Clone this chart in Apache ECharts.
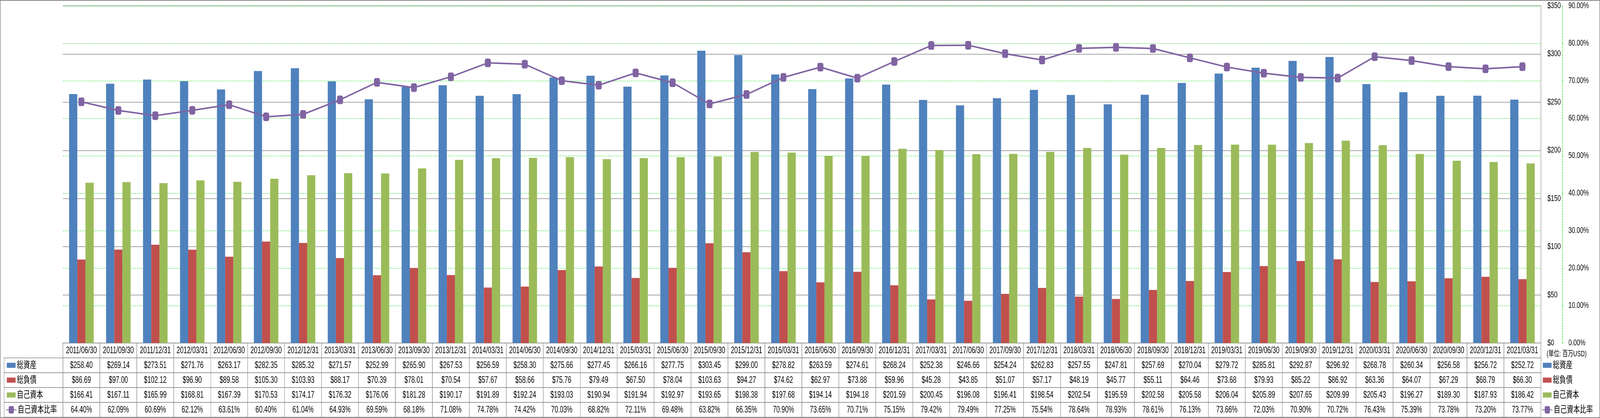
<!DOCTYPE html>
<html><head><meta charset="utf-8">
<script src="https://cdn.jsdelivr.net/npm/echarts@6/dist/echarts.min.js"></script>
<style>html,body{margin:0;padding:0;background:#fff;overflow:hidden}#c{width:5876px;height:1071px;transform-origin:0 0}</style>
</head><body><div id="c"></div>
<script>
const categories = ['2011/06/30','2011/09/30','2011/12/31','2012/03/31','2012/06/30','2012/09/30','2012/12/31','2013/03/31','2013/06/30','2013/09/30','2013/12/31','2014/03/31','2014/06/30','2014/09/30','2014/12/31','2015/03/31','2015/06/30','2015/09/30','2015/12/31','2016/03/31','2016/06/30','2016/09/30','2016/12/31','2017/03/31','2017/06/30','2017/09/30','2017/12/31','2018/03/31','2018/06/30','2018/09/30','2018/12/31','2019/03/31','2019/06/30','2019/09/30','2019/12/31','2020/03/31','2020/06/30','2020/09/30','2020/12/31','2021/03/31'];
const totalAssets = [258.40,269.14,273.51,271.76,263.17,282.35,285.32,271.57,252.99,265.90,267.53,256.59,258.30,275.66,277.45,266.16,277.75,303.45,299.00,278.82,263.59,274.61,268.24,252.38,246.66,254.24,262.83,257.55,247.81,257.69,270.04,279.72,285.81,292.87,296.92,268.78,260.34,256.58,256.72,252.72];
const totalLiabilities = [86.69,97.00,102.12,96.90,89.58,105.30,103.93,88.17,70.39,78.01,70.54,57.67,58.66,75.76,79.49,67.50,78.04,103.63,94.27,74.62,62.97,73.88,59.96,45.28,43.85,51.07,57.17,48.19,45.77,55.11,64.46,73.68,79.93,85.22,86.92,63.36,64.07,67.29,68.79,66.30];
const equity = [166.41,167.11,165.99,168.81,167.39,170.53,174.17,176.32,176.06,181.28,190.17,191.89,192.24,193.03,190.94,191.94,192.97,193.65,198.38,197.68,194.14,194.18,201.59,200.45,196.08,196.41,198.54,202.54,195.59,202.58,205.58,206.04,205.89,207.65,209.99,205.43,196.27,189.30,187.93,186.42];
const equityRatio = [64.40,62.09,60.69,62.12,63.61,60.40,61.04,64.93,69.59,68.18,71.08,74.78,74.42,70.03,68.82,72.11,69.48,63.82,66.35,70.90,73.65,70.71,75.15,79.42,79.49,77.25,75.54,78.64,78.93,78.61,76.13,73.66,72.03,70.90,70.72,76.43,75.39,73.78,73.20,73.77];
const seriesNames = ['総資産','総負債','自己資本','自己資本比率'];
const tableRows = ['header','総資産','総負債','自己資本','自己資本比率'];
const moneyAxis = {min:0, max:350, interval:50};
const ratioAxis = {min:0, max:90, interval:10};
const unitLabel = '(単位: 百万USD)';

const DESIGN_W = 5876;
const box = document.getElementById('c');
const sx = Math.min(1, window.innerWidth / DESIGN_W);
box.style.transform = 'scaleX(' + sx + ')';

const FONT = "'Liberation Sans', 'Noto Sans CJK JP', sans-serif";
const GRID_LINE = '#878787';
const GREEN = '#00dd00';
const colors = ['#4F81BD','#C0504D','#9BBB59','#8064A2'];

function cellText(r, c) {
  if (r === 0) return categories[c];
  if (r === 4) return equityRatio[c].toFixed(2) + '%';
  const arr = [totalAssets, totalLiabilities, equity][r - 1];
  return '$' + arr[c].toFixed(2);
}
const tableData = [];
for (let r = 0; r < tableRows.length; r++) for (let c = 0; c < categories.length; c++) tableData.push([c, r]);
const legendColData = seriesNames.map((n, i) => [0, i]);

function renderTableCell(params, api) {
  const c = api.value(0), r = api.value(1);
  const p = api.coord([c, r]);
  const s = api.size([1, 1]);
  return {
    type: 'group',
    children: [
      {type: 'rect', shape: {x: p[0] - s[0] / 2, y: p[1] - s[1] / 2, width: s[0], height: s[1]},
       style: {fill: '#fff', stroke: GRID_LINE, lineWidth: 1.5}},
      {type: 'text', style: {x: p[0], y: p[1] + 1, text: cellText(r, c), align: 'center', verticalAlign: 'middle',
       font: '23px ' + FONT, fill: '#000'}}
    ]
  };
}
function renderLegendCell(params, api) {
  const p = api.coord([api.value(0), api.value(1)]);
  const s = api.size([1, 1]);
  return {type: 'rect', shape: {x: p[0] - s[0] / 2, y: p[1] - s[1] / 2, width: s[0], height: s[1]},
    style: {fill: '#fff', stroke: GRID_LINE, lineWidth: 1.5}};
}

const legendText = {fontSize: 24, lineHeight: 24, fontFamily: FONT, color: '#000'};
const chart = echarts.init(box, null, {renderer: 'canvas', width: DESIGN_W, height: 1071});
chart.setOption({
  animation: false,
  backgroundColor: '#fff',
  title: {text: unitLabel, left: 5680, top: 897, padding: 0,
    textStyle: {fontSize: 20, fontWeight: 'normal', color: '#000', fontFamily: FONT}},
  graphic: [{type: 'rect', silent: true, z: -10,
    shape: {x: 1, y: 1, width: 5874, height: 1069},
    style: {fill: 'none', stroke: '#868686', lineWidth: 2}}],
  grid: [
    {left: 231, right: 217, top: 15, bottom: 192, outerBoundsMode: 'none'},
    {left: 231, right: 217, top: 879, height: 190, outerBoundsMode: 'none'},
    {left: 15, width: 216, top: 917, height: 152, outerBoundsMode: 'none'}
  ],
  xAxis: [
    {gridIndex: 0, type: 'category', data: categories, axisLabel: {show: false}, axisTick: {show: false},
     axisLine: {lineStyle: {color: GRID_LINE, width: 1.5}}},
    {gridIndex: 1, type: 'category', data: categories, show: false},
    {gridIndex: 2, type: 'category', data: ['legend'], show: false}
  ],
  yAxis: [
    {gridIndex: 0, type: 'value', position: 'right', min: moneyAxis.min, max: moneyAxis.max, interval: moneyAxis.interval,
     axisLine: {show: true, lineStyle: {color: GRID_LINE, width: 1.5}}, axisTick: {show: false},
     axisLabel: {formatter: v => '$' + v, color: '#000', fontSize: 22, fontFamily: FONT, margin: 24},
     splitLine: {lineStyle: {color: GRID_LINE, width: 1.5}}},
    {gridIndex: 0, type: 'value', position: 'right', offset: 78, min: ratioAxis.min, max: ratioAxis.max, interval: ratioAxis.interval,
     axisLine: {show: true, lineStyle: {color: GREEN, width: 1.2, type: [4, 3]}},
     axisTick: {show: true, length: 7, lineStyle: {color: GREEN, width: 1.2, type: [4, 3]}},
     axisLabel: {formatter: v => v.toFixed(2) + '%', color: '#000', fontSize: 22, fontFamily: FONT, margin: 23},
     splitLine: {show: true, lineStyle: {color: GREEN, width: 1.2, type: [4, 3]}}},
    {gridIndex: 1, type: 'category', data: tableRows, inverse: true, show: false},
    {gridIndex: 2, type: 'category', data: seriesNames, inverse: true, show: false}
  ],
  legend: [
    {data: seriesNames.slice(0, 3), orient: 'vertical', left: 25, top: 924, padding: 0, itemWidth: 32, itemHeight: 13,
     itemGap: 14, icon: 'rect', textStyle: legendText, selectedMode: false},
    {data: [seriesNames[3]], orient: 'vertical', left: 22, top: 1038, padding: 0, itemWidth: 37, itemHeight: 24,
     textStyle: legendText, selectedMode: false},
    {data: seriesNames.slice(0, 3), orient: 'vertical', left: 5666, top: 924, padding: 0, itemWidth: 32, itemHeight: 13,
     itemGap: 14, icon: 'rect', textStyle: legendText, selectedMode: false},
    {data: [seriesNames[3]], orient: 'vertical', left: 5663, top: 1038, padding: 0, itemWidth: 37, itemHeight: 24,
     textStyle: legendText, selectedMode: false}
  ],
  series: [
    {name: seriesNames[0], type: 'bar', xAxisIndex: 0, yAxisIndex: 0, data: totalAssets, barWidth: 30, barGap: '0%', itemStyle: {color: colors[0]}},
    {name: seriesNames[1], type: 'bar', xAxisIndex: 0, yAxisIndex: 0, data: totalLiabilities, barWidth: 30, barGap: '0%', itemStyle: {color: colors[1]}},
    {name: seriesNames[2], type: 'bar', xAxisIndex: 0, yAxisIndex: 0, data: equity, barWidth: 30, barGap: '0%', itemStyle: {color: colors[2]}},
    {name: seriesNames[3], type: 'line', xAxisIndex: 0, yAxisIndex: 1, data: equityRatio, symbol: 'roundRect', symbolSize: 22,
     lineStyle: {width: 4, color: colors[3]}, itemStyle: {color: colors[3]}, z: 5},
    {name: 'table', type: 'custom', xAxisIndex: 1, yAxisIndex: 2, data: tableData, renderItem: renderTableCell, silent: true},
    {name: 'legendColumn', type: 'custom', xAxisIndex: 2, yAxisIndex: 3, data: legendColData, renderItem: renderLegendCell, silent: true}
  ]
});
</script></body></html>
